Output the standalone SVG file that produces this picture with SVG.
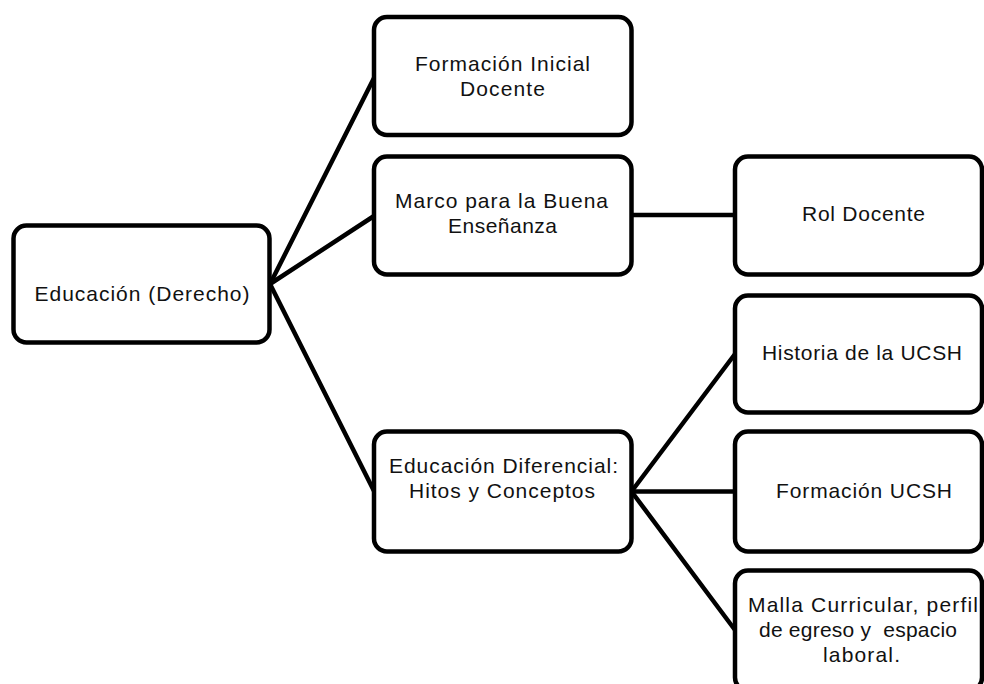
<svg xmlns="http://www.w3.org/2000/svg" width="984" height="684" viewBox="0 0 984 684">
<style>
.box{fill:#fff;stroke:#000;stroke-width:4.5}
.ln{stroke:#000;stroke-width:4.5;fill:none;stroke-linecap:round}
text{font-family:"Liberation Sans",Arial,sans-serif;font-size:21px;fill:#111;text-anchor:middle;white-space:pre}
</style>
<rect width="984" height="684" fill="#fff"/>
<g id="connectors">
<line class="ln" x1="270" y1="284" x2="374" y2="78"/>
<line class="ln" x1="270" y1="284" x2="374" y2="216"/>
<line class="ln" x1="270" y1="284" x2="374" y2="491"/>
<line class="ln" x1="631.5" y1="215" x2="735" y2="215"/>
<line class="ln" x1="631.5" y1="491.5" x2="735" y2="354"/>
<line class="ln" x1="631.5" y1="491.5" x2="735" y2="491.5"/>
<line class="ln" x1="631.5" y1="491.5" x2="735" y2="630"/>
</g>
<g id="n-educacion">
<rect class="box" x="13.5" y="225.5" width="256" height="117" rx="13"/>
<text x="142" y="301" textLength="215" lengthAdjust="spacing">Educación (Derecho)</text>
</g>
<g id="n-formacion-inicial">
<rect class="box" x="374" y="17" width="257.5" height="118" rx="13"/>
<text x="502.5" y="71" textLength="175" lengthAdjust="spacing">Formación Inicial</text>
<text x="502.5" y="96" textLength="85" lengthAdjust="spacing">Docente</text>
</g>
<g id="n-marco">
<rect class="box" x="374" y="156.5" width="257.5" height="118" rx="13"/>
<text x="501.5" y="208" textLength="213" lengthAdjust="spacing">Marco para la Buena</text>
<text x="502.5" y="233" textLength="109" lengthAdjust="spacing">Enseñanza</text>
</g>
<g id="n-rol">
<rect class="box" x="735" y="156.5" width="247" height="118" rx="13"/>
<text x="863.5" y="221" textLength="123" lengthAdjust="spacing">Rol Docente</text>
</g>
<g id="n-historia">
<rect class="box" x="735" y="295.5" width="247" height="117" rx="13"/>
<text x="862" y="360" textLength="200" lengthAdjust="spacing">Historia de la UCSH</text>
</g>
<g id="n-diferencial">
<rect class="box" x="374" y="431.5" width="257.5" height="120" rx="13"/>
<text x="503.5" y="473" textLength="229" lengthAdjust="spacing">Educación Diferencial:</text>
<text x="502" y="498" textLength="186" lengthAdjust="spacing">Hitos y Conceptos</text>
</g>
<g id="n-formacion-ucsh">
<rect class="box" x="735" y="431.5" width="247" height="120" rx="13"/>
<text x="864" y="498" textLength="176" lengthAdjust="spacing">Formación UCSH</text>
</g>
<g id="n-malla">
<rect class="box" x="735" y="570.5" width="247" height="120" rx="13"/>
<text x="863" y="612" textLength="230" lengthAdjust="spacing">Malla Curricular, perfil</text>
<text x="858" y="637" textLength="198" lengthAdjust="spacing">de egreso y  espacio</text>
<text x="861.5" y="662" textLength="77" lengthAdjust="spacing">laboral.</text>
</g>
</svg>
